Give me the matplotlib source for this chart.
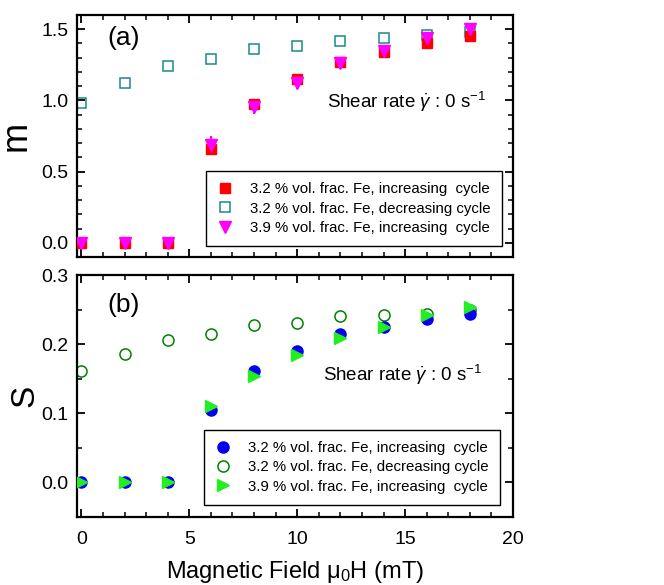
import matplotlib
matplotlib.use("Agg")
import matplotlib.pyplot as plt
from matplotlib.ticker import MultipleLocator

plt.rcParams['font.family'] = ['Liberation Sans', 'DejaVu Sans']
plt.rcParams['mathtext.fontset'] = 'custom'
plt.rcParams['mathtext.rm'] = 'Liberation Sans'
plt.rcParams['mathtext.it'] = 'Liberation Sans:italic'

field = [0, 2, 4, 6, 8, 10, 12, 14, 16, 18]

m_inc32 = [0, 0, 0, 0.66, 0.975, 1.15, 1.27, 1.34, 1.405, 1.45]
m_dec32 = [0.985, 1.125, 1.245, 1.29, 1.36, 1.38, 1.42, 1.435, 1.46, 1.48]
m_inc39 = [0, 0, 0, 0.69, 0.955, 1.12, 1.26, 1.35, 1.435, 1.50]
m_err39 = [0.01, 0.01, 0.01, 0.06, 0.05, 0.04, 0.04, 0.04, 0.04, 0.04]

s_inc32 = [0, 0, 0, 0.105, 0.161, 0.190, 0.214, 0.225, 0.236, 0.244]
s_dec32 = [0.161, 0.186, 0.206, 0.215, 0.228, 0.230, 0.240, 0.242, 0.244, 0.250]
s_inc39 = [0, 0, 0, 0.110, 0.154, 0.184, 0.209, 0.225, 0.242, 0.254]

labels = ['3.2 % vol. frac. Fe, increasing  cycle',
          '3.2 % vol. frac. Fe, decreasing cycle',
          '3.9 % vol. frac. Fe, increasing  cycle']

fig = plt.figure(figsize=(6.64, 5.85), dpi=100)
ax1 = fig.add_axes([0.116, 0.5607, 0.6566, 0.4137])
ax2 = fig.add_axes([0.116, 0.1162, 0.6566, 0.4137])

ax1.errorbar(field, m_inc39, yerr=m_err39, fmt='none', ecolor='#ff00ff', elinewidth=1.5, zorder=2)
ax1.plot(field, m_inc32, 's', color='#ff0000', ms=7.5, label=labels[0], zorder=3)
ax1.plot(field, m_dec32, 's', mfc='none', mec='#1a8a8a', mew=1.1, ms=7.5, label=labels[1], zorder=2)
ax1.plot(field, m_inc39, 'v', color='#ff00ff', ms=9, label=labels[2], zorder=4)

ax2.plot(field, s_inc32, 'o', color='#0000ee', ms=8, label=labels[0], zorder=3)
ax2.plot(field, s_dec32, 'o', mfc='none', mec='#008000', mew=1.1, ms=8, label=labels[1], zorder=2)
ax2.plot(field, s_inc39, '>', color='#22ee22', ms=9, label=labels[2], zorder=4)

legpos = {ax1: (0.975, 0.045), ax2: (0.970, 0.05)}
for ax in (ax1, ax2):
    ax.set_xlim(-0.2, 20)
    ax.xaxis.set_major_locator(MultipleLocator(5))
    ax.xaxis.set_minor_locator(MultipleLocator(1))
    ax.tick_params(which='both', direction='in', top=True, right=True, labelsize=14)
    ax.tick_params(which='major', length=6, width=1.3, pad=6)
    ax.tick_params(which='minor', length=3.5, width=1.1)
    ax.tick_params(axis='x', which='major', pad=10)
    for sp in ax.spines.values():
        sp.set_linewidth(1.6)
    leg = ax.legend(loc='lower right', bbox_to_anchor=legpos[ax], fontsize=10.8, frameon=True,
                    fancybox=False, edgecolor='black', handlelength=1.0, handletextpad=1.2,
                    borderpad=0.75, labelspacing=0.35, borderaxespad=0, framealpha=1)
    leg.get_frame().set_linewidth(1.0)

ax1.set_ylim(-0.1, 1.6)
ax1.yaxis.set_major_locator(MultipleLocator(0.5))
ax1.yaxis.set_minor_locator(MultipleLocator(0.1))
ax1.tick_params(labelbottom=False)
ax1.set_ylabel('m', fontsize=26, va='center')
ax1.yaxis.set_label_coords(-0.14, 0.5)
ax1.text(0.07, 0.905, '(a)', transform=ax1.transAxes, fontsize=19, va='center', ha='left')
ax1.text(0.94, 0.64, r'Shear rate $\dot{\gamma}$ : 0 s$^{-1}$', transform=ax1.transAxes,
         fontsize=13.5, ha='right', va='center')

ax2.set_ylim(-0.05, 0.3)
ax2.yaxis.set_major_locator(MultipleLocator(0.1))
ax2.yaxis.set_minor_locator(MultipleLocator(0.05))
ax2.set_ylabel('S', fontsize=24, va='center')
ax2.yaxis.set_label_coords(-0.12, 0.5)
ax2.set_xlabel('Magnetic Field μ$_0$H (mT)', fontsize=17, labelpad=8)
ax2.text(0.07, 0.875, '(b)', transform=ax2.transAxes, fontsize=19, va='center', ha='left')
ax2.text(0.93, 0.585, r'Shear rate $\dot{\gamma}$ : 0 s$^{-1}$', transform=ax2.transAxes,
         fontsize=13.5, ha='right', va='center')

fig.savefig('out.png', dpi=100)
